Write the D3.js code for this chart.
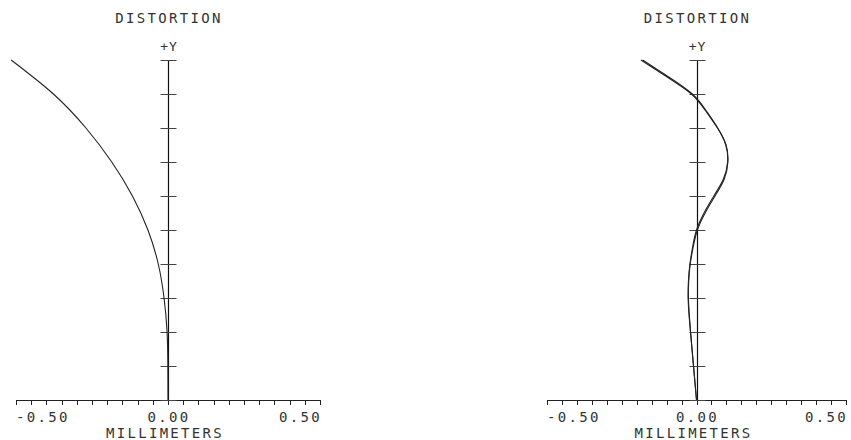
<!DOCTYPE html>
<html>
<head>
<meta charset="utf-8">
<script src="https://cdn.jsdelivr.net/npm/d3@7.9.0/dist/d3.min.js"></script>
<style>
  html, body { margin: 0; padding: 0; background: #fff; }
  svg text {
    font-family: "DejaVu Sans Mono", "Liberation Mono", monospace;
    font-size: 14px;
    letter-spacing: 2.3px;
    fill: #333;
  }
</style>
</head>
<body>
<svg id="chart" width="851" height="440"></svg>
<script>
// -------- data --------
const fieldLeft = [0, 0.1, 0.2, 0.3, 0.4, 0.5, 0.6, 0.7, 0.8, 0.9, 1.0];
const distLeft = [0, -0.0005, -0.003, -0.013, -0.032, -0.066, -0.117, -0.185, -0.270, -0.377, -0.516];

const fieldRight = [0, 0.05, 0.1, 0.15, 0.2, 0.25, 0.3, 0.35, 0.4, 0.45, 0.5, 0.55, 0.6, 0.65, 0.7, 0.75, 0.8, 0.85, 0.9, 0.95, 1.0];
const distRightA = [0, -0.005, -0.010, -0.015, -0.020, -0.025, -0.028, -0.027, -0.022, -0.013, 0.000, 0.025, 0.058, 0.090, 0.104, 0.098, 0.070, 0.031, -0.017, -0.098, -0.186];
const distRightB = [0, -0.005, -0.010, -0.015, -0.020, -0.024, -0.027, -0.026, -0.021, -0.011, 0.003, 0.029, 0.062, 0.093, 0.105, 0.099, 0.071, 0.033, -0.014, -0.093, -0.180];

const xTicks = d3.range(-0.5, 0.5001, 0.05);
const yTicks = d3.range(0, 1.0001, 0.1);
const xLabels = ['-0.50', '0.00', '0.50'];

// -------- layout --------
const panels = [
  { left: 16, right: 320, series: [[fieldLeft, distLeft]] },
  { left: 547, right: 846, series: [[fieldRight, distRightA], [fieldRight, distRightB]] }
];
const plotTop = 60;
const plotBottom = 400;

const svg = d3.select('#chart');

panels.forEach(p => {
  const x = d3.scaleLinear().domain([-0.5, 0.5]).range([p.left, p.right]);
  const y = d3.scaleLinear().domain([0, 1]).range([plotBottom, plotTop]);
  const g = svg.append('g');
  const x0 = Math.round(x(0)) + 0.5;

  // x axis: line with ticks hanging down
  g.append('line')
    .attr('x1', x(-0.5)).attr('x2', x(0.5))
    .attr('y1', plotBottom + 0.5).attr('y2', plotBottom + 0.5)
    .attr('stroke', '#222').attr('stroke-width', 1);
  g.selectAll('.xt')
    .data(xTicks)
    .join('line')
    .attr('x1', d => Math.round(x(d)) + 0.5).attr('x2', d => Math.round(x(d)) + 0.5)
    .attr('y1', plotBottom).attr('y2', plotBottom + 5)
    .attr('stroke', '#222').attr('stroke-width', 1);

  // y axis with cross ticks
  g.append('line')
    .attr('x1', x0).attr('x2', x0)
    .attr('y1', y(1)).attr('y2', y(0))
    .attr('stroke', '#111').attr('stroke-width', 1.2);
  g.selectAll('.yt')
    .data(yTicks)
    .join('line')
    .attr('x1', x0 - 8).attr('x2', x0 + 8)
    .attr('y1', d => Math.round(y(d)) + 0.5).attr('y2', d => Math.round(y(d)) + 0.5)
    .attr('stroke', '#444').attr('stroke-width', 1);

  // labels
  g.append('text').attr('x', x(-0.5)).attr('y', 422).attr('text-anchor', 'start').text(xLabels[0]);
  g.append('text').attr('x', x(0) + 1).attr('y', 422).attr('text-anchor', 'middle').text(xLabels[1]);
  g.append('text').attr('x', x(0.5) + 2).attr('y', 422).attr('text-anchor', 'end').text(xLabels[2]);
  g.append('text').attr('x', x(0) - 3).attr('y', 438).attr('text-anchor', 'middle').text('MILLIMETERS');
  g.append('text').attr('x', x(0) + 1).attr('y', 23).attr('text-anchor', 'middle').text('DISTORTION');
  g.append('text').attr('x', x(0) + 1).attr('y', 51).attr('text-anchor', 'middle')
    .style('font-size', '13px').style('letter-spacing', '1px').text('+Y');

  // curves
  const line = d3.line()
    .x(d => x(d[1]))
    .y(d => y(d[0]))
    .curve(d3.curveNatural);
  p.series.forEach(([f, v]) => {
    g.append('path')
      .attr('d', line(d3.zip(f, v)))
      .attr('fill', 'none')
      .attr('stroke', '#222')
      .attr('stroke-width', 1.1);
  });
});
</script>
</body>
</html>
